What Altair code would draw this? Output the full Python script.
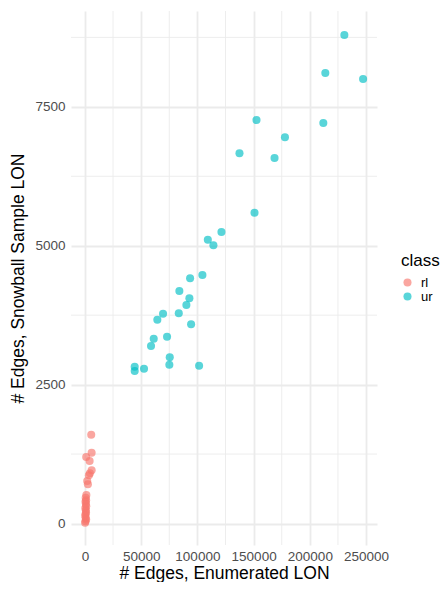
import altair as alt
import pandas as pd

# ---- data ----
ur_x = [230670, 213740, 247320, 211960, 152560, 177850, 137420, 168590, 150780,
        121390, 109280, 114260, 104470, 93510, 83980, 92890, 90220, 69470,
        83450, 64390, 94400, 61180, 73030, 58780, 75430, 75080, 101530,
        44260, 44260, 52550]
ur_y = [8793, 8109, 8001, 7209, 7263, 6952, 6664, 6579, 5594,
        5247, 5108, 5008, 4473, 4414, 4185, 4054, 3933, 3776,
        3784, 3668, 3586, 3326, 3362, 3195, 2992, 2858, 2840,
        2822, 2745, 2786]
rl_x = [5610, 5970, 1160, 4190, 5970, 4450, 3560, 2050, 2670, 1300, 700, 1100,
        500, 900, 1200, 400, 800, 1000, 600, 300, 700, 1100, 500, 200]
rl_y = [1598, 1274, 1197, 1125, 958, 904, 868, 765, 706, 513, 464, 420,
        390, 350, 310, 280, 240, 200, 170, 140, 100, 70, 40, 15]

x_ticks = [0, 50000, 100000, 150000, 200000, 250000]
y_ticks = [0, 2500, 5000, 7500]
x_minor = [25000, 75000, 125000, 175000, 225000]
y_minor = [1250, 3750, 6250, 8750]
classes = ["rl", "ur"]
colors = ["#F8766D", "#00BFC4"]

df = pd.DataFrame({
    "x": rl_x + ur_x,
    "y": rl_y + ur_y,
    "class": ["rl"] * len(rl_x) + ["ur"] * len(ur_x),
})

FONT = "Liberation Sans"
xscale = alt.Scale(domain=[-12366, 259686], nice=False, zero=False)
yscale = alt.Scale(domain=[-387, 9225], nice=False, zero=False)
xaxis = alt.Axis(values=x_ticks, title="# Edges, Enumerated LON",
                 labelPadding=4, titlePadding=2, format="d")
yaxis = alt.Axis(values=y_ticks, title="# Edges, Snowball Sample LON",
                 labelPadding=6, titlePadding=7.5, format="d")

vminor = alt.Chart(pd.DataFrame({"x": x_minor})).mark_rule(
    color="#EBEBEB", strokeWidth=0.9
).encode(x=alt.X("x:Q", scale=xscale, axis=xaxis))

hminor = alt.Chart(pd.DataFrame({"y": y_minor})).mark_rule(
    color="#EBEBEB", strokeWidth=0.9
).encode(y=alt.Y("y:Q", scale=yscale, axis=yaxis))

points = alt.Chart(df).mark_circle(size=65, opacity=0.65).encode(
    x=alt.X("x:Q", scale=xscale, axis=xaxis),
    y=alt.Y("y:Q", scale=yscale, axis=yaxis),
    color=alt.Color("class:N",
                    scale=alt.Scale(domain=classes, range=colors),
                    legend=alt.Legend(title="class", orient="none",
                                      legendX=330, legendY=242)),
)

chart = alt.layer(vminor, hminor, points).properties(
    width=306, height=534,
    padding={"left": 1, "top": 2, "right": 0, "bottom": 0},
    background="white",
).configure_view(stroke=None).configure_axis(
    domain=False, ticks=False, grid=True, gridColor="#EBEBEB", gridWidth=1.8,
    labelColor="#4D4D4D", labelFontSize=13.5, labelFont=FONT,
    titleFont=FONT, titleFontSize=17.5, titleColor="black", titleFontWeight="normal",
).configure_legend(
    titleFont=FONT, titleFontSize=17, titleFontWeight="normal", titleColor="black",
    titlePadding=6,
    labelFont=FONT, labelFontSize=13, labelColor="black",
    symbolSize=65, symbolOpacity=0.65, symbolStrokeWidth=0, rowPadding=0,
    labelOffset=7,
)

chart.save("out.html", embed_options={"renderer": "svg", "actions": False})
